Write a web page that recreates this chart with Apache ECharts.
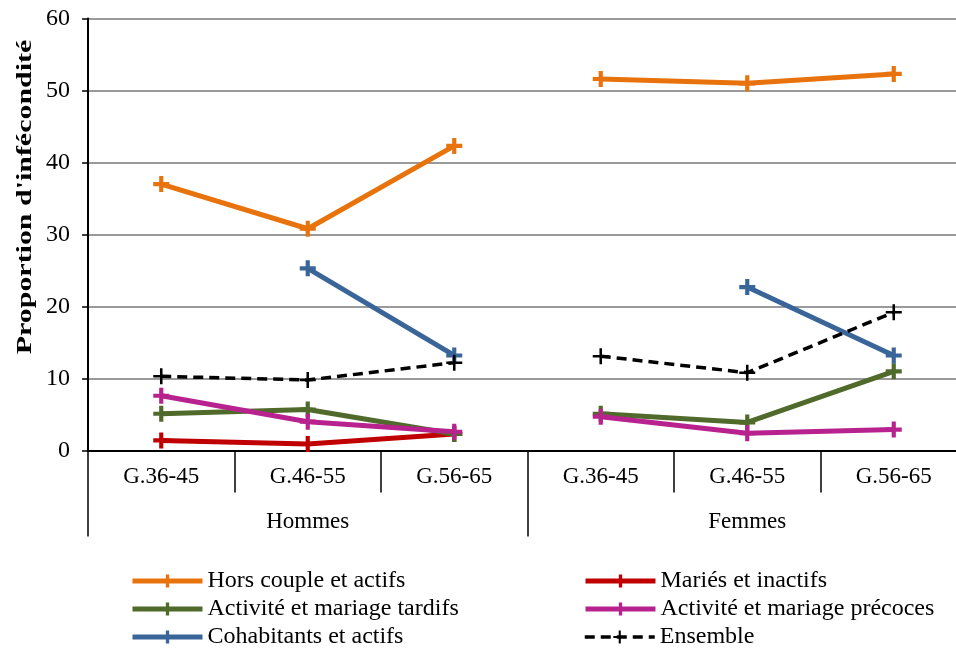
<!DOCTYPE html>
<html>
<head>
<meta charset="utf-8">
<script src="https://cdn.jsdelivr.net/npm/echarts@6/dist/echarts.min.js"></script>
<style>
  html, body { margin: 0; padding: 0; background: #fff; }
  #chart { width: 956px; height: 648px; }
</style>
</head>
<body>
<div id="chart"></div>
<script>
// Age groups shown inside each sex block
const ageGroups = ['G.36-45', 'G.46-55', 'G.56-65'];
const sexes = ['Hommes', 'Femmes'];
const yTicks = [0, 10, 20, 30, 40, 50, 60];
const yTitle = "Proportion d'infécondité";

// Proportion d'infécondité, Hommes then Femmes
const horsCoupleH = [37.0, 30.8, 42.3];
const horsCoupleF = [51.6, 51.0, 52.3];
const mariesH = [1.4, 0.9, 2.3];
const mariesF = [null, null, null];
const tardifsH = [5.1, 5.7, 2.3];
const tardifsF = [5.1, 3.9, 11.0];
const precocesH = [7.6, 4.0, 2.6];
const precocesF = [4.7, 2.4, 2.9];
const cohabitantsH = [null, 25.3, 13.2];
const cohabitantsF = [null, 22.7, 13.2];
const ensembleH = [10.3, 9.8, 12.2];
const ensembleF = [13.1, 10.8, 19.2];

const seriesDefs = [
  { name: 'Hors couple et actifs', h: horsCoupleH, f: horsCoupleF, color: '#E8720C', dash: false },
  { name: 'Mariés et inactifs', h: mariesH, f: mariesF, color: '#C00000', dash: false },
  { name: 'Activité et mariage tardifs', h: tardifsH, f: tardifsF, color: '#4F6A2B', dash: false },
  { name: 'Activité et mariage précoces', h: precocesH, f: precocesF, color: '#B8228F', dash: false },
  { name: 'Cohabitants et actifs', h: cohabitantsH, f: cohabitantsF, color: '#3A6598', dash: false },
  { name: 'Ensemble', h: ensembleH, f: ensembleF, color: '#000000', dash: true }
];

// legend placement: two columns of three rows
const legendLeftCol = ['Hors couple et actifs', 'Activité et mariage tardifs', 'Cohabitants et actifs'];
const legendRightCol = ['Mariés et inactifs', 'Activité et mariage précoces', 'Ensemble'];

const categories = sexes.flatMap(() => ageGroups);
const none = ageGroups.map(() => null);

const plusThick = 'path://M3.7 0H6.3V3.7H10V6.3H6.3V10H3.7V6.3H0V3.7H3.7Z';
const plusThin = 'path://M4.2 0H5.8V4.2H10V5.8H5.8V10H4.2V5.8H0V4.2H4.2Z';
const font = 'Liberation Serif';
const dashPattern = [10, 6];

const defByName = {};
seriesDefs.forEach(d => { defByName[d.name] = d; });

// each sex block is its own segment so lines do not join across blocks
const series = [];
seriesDefs.forEach(d => {
  [d.h.concat(none), none.concat(d.f)].forEach(values => {
    series.push({
      name: d.name,
      type: 'line',
      data: values,
      connectNulls: false,
      symbol: d.dash ? plusThin : plusThick,
      symbolSize: 16,
      showSymbol: true,
      itemStyle: { color: d.color },
      lineStyle: { color: d.color, width: d.dash ? 3.5 : 5, type: d.dash ? dashPattern : 'solid' },
      emphasis: { disabled: true },
      animation: false
    });
  });
});

const legendText = { fontFamily: font, fontSize: 24, color: '#000' };
const legends = [];
[[legendLeftCol, 130], [legendRightCol, 583]].forEach(([names, left]) => {
  names.forEach((n, i) => {
    const d = defByName[n];
    legends.push({
      data: [n],
      left: left,
      top: 569 + i * 28,
      itemWidth: 70,
      itemHeight: 16,
      itemGap: 0,
      padding: 0,
      textStyle: legendText,
      selectedMode: false,
      lineStyle: { width: d.dash ? 3.5 : 5, type: d.dash ? dashPattern : 'solid', color: d.color }
    });
  });
});

const chart = echarts.init(document.getElementById('chart'), null, { renderer: 'canvas' });
chart.setOption({
  backgroundColor: '#fff',
  animation: false,
  grid: { left: 88, top: 18.5, width: 879, height: 432, containLabel: false, outerBoundsMode: 'none' },
  legend: legends,
  graphic: [
    {
      type: 'text',
      x: 25,
      y: 197,
      rotation: Math.PI / 2,
      scaleX: 1.36,
      style: {
        text: yTitle,
        fontFamily: font,
        fontSize: 22,
        fontWeight: 'bold',
        fill: '#000',
        align: 'center',
        verticalAlign: 'middle'
      }
    }
  ],
  xAxis: [
    {
      type: 'category',
      data: categories,
      boundaryGap: true,
      position: 'bottom',
      axisLine: { show: true, lineStyle: { color: '#000', width: 2 } },
      axisTick: { show: true, interval: 0, length: 42, lineStyle: { color: '#000', width: 1.5 } },
      axisLabel: { interval: 0, margin: 15, fontFamily: font, fontSize: 23, color: '#000' },
      splitLine: { show: false }
    },
    {
      type: 'category',
      data: sexes,
      boundaryGap: true,
      position: 'bottom',
      axisLine: { show: false },
      axisTick: { show: true, interval: 0, length: 86, lineStyle: { color: '#000', width: 1.5 } },
      axisLabel: { interval: 0, margin: 60, fontFamily: font, fontSize: 23, color: '#000' },
      splitLine: { show: false }
    }
  ],
  yAxis: {
    type: 'value',
    min: yTicks[0],
    max: yTicks[yTicks.length - 1],
    interval: 10,
    axisLine: { show: true, lineStyle: { color: '#000', width: 2 } },
    axisTick: { show: true, length: 6, lineStyle: { color: '#000', width: 1.5 } },
    axisLabel: { margin: 18, fontFamily: font, fontSize: 24, color: '#000' },
    splitLine: { show: true, lineStyle: { color: '#9a9a9a', width: 2 } }
  },
  series: series
});
</script>
</body>
</html>
